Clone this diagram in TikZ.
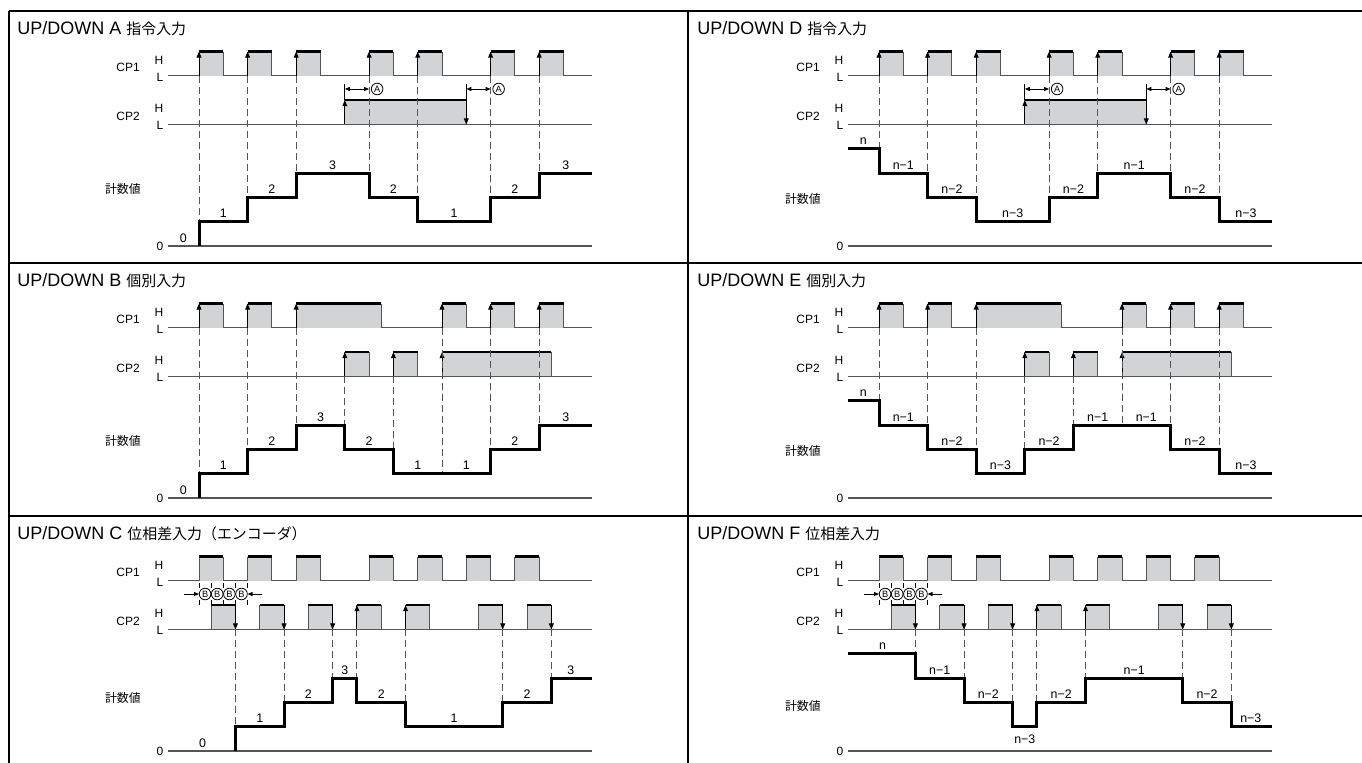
\documentclass[tikz,border=0pt]{standalone}
\usepackage{fontspec}
\setmainfont{Liberation Sans}
\newfontfamily\jp{Noto Sans CJK JP}[Scale=0.83]
\usetikzlibrary{arrows.meta}

\definecolor{pulsegray}{RGB}{209,211,212}
\definecolor{wiregray}{RGB}{85,85,85}

% one pulse: start, end, low level, high level
\newcommand{\pulse}[4]{%
  \fill[pulsegray] (#1,#3) rectangle (#2,#4);
  \draw[pulse side] (#1,#3) -- (#1,#4) (#2,#3) -- (#2,#4);
  \draw[pulse top] (#1,#4) -- (#2,#4);}

% names, level lines and zero line of one panel (#1 prefix, #2 height of count name)
\newcommand{\panelbase}[2]{%
  \node[sig label] (#1cp1) at (-2.92,7.35) {CP1};
  \node[lvl label] (#1h1) at (-1.45,7.65) {H};
  \node[lvl label] (#1l1) at (-1.45,6.95) {L};
  \node[sig label] (#1cp2) at (-2.92,5.35) {CP2};
  \node[lvl label] (#1h2) at (-1.45,5.65) {H};
  \node[lvl label] (#1l2) at (-1.45,4.95) {L};
  \node[sig label] (#1cnt) at (-3.13,#2) {{\jp\fontsize{7.2}{8}\selectfont 計数値}};
  \node[lvl label] (#1zero) at (-1.45,-0.03) {0};
  \draw[level line] (-1.28,7) -- (16.17,7);
  \draw[level line] (-1.28,5) -- (16.17,5);
  \draw[level line] (-1.28,0) -- (16.17,0);}

\begin{document}
\begin{tikzpicture}[x=0.5pt,y=-0.5pt,
    frame line/.style={line width=1pt},
    panel line/.style={line width=0.7pt},
    level line/.style={draw=wiregray,line width=0.6pt},
    pulse side/.style={draw=wiregray,line width=0.5pt},
    pulse top/.style={line width=1.3pt},
    edge arrow/.style={line width=0.5pt,-{Triangle[length=3pt,width=2.4pt]}},
    dash line/.style={draw=wiregray,line width=0.5pt,dash pattern=on 3.5pt off 2pt},
    count line/.style={line width=1.5pt,line join=miter},
    one tip/.style={line width=0.4pt,-{Triangle[length=2.5pt,width=2pt]}},
    both tips/.style={line width=0.4pt,{Triangle[length=2.5pt,width=2pt]}-{Triangle[length=2.5pt,width=2pt]}},
    tick line/.style={line width=0.4pt},
    title label/.style={anchor=west,inner sep=0pt,font=\fontsize{9}{10}\selectfont},
    sig label/.style={inner sep=0pt,font=\fontsize{6}{7}\selectfont},
    lvl label/.style={inner sep=0pt,anchor=east,font=\fontsize{6}{7}\selectfont},
    val label/.style={inner sep=0pt,font=\fontsize{6.2}{7}\selectfont},
    circ label/.style={circle,draw,line width=0.4pt,fill=white,inner sep=0pt,
      minimum size=5.8pt,font=\fontsize{4.6}{5}\selectfont}]

\useasboundingbox (0,0) rectangle (1362,763);

% frame
\draw[frame line] (9,11) -- (1362,11);
\draw[frame line] (9,11) -- (9,763);
\draw[panel line] (688,11) -- (688,763);
\draw[panel line] (9,263) -- (1362,263);
\draw[panel line] (9,516) -- (1362,516);

% ---------- A
\begin{scope}[shift={(199,246)},x=12.15pt,y=12.15pt]
  \node[title label] (aTitle) at (-7.49,8.93) {UP/DOWN A {\jp 指令入力}};
  \panelbase{a}{2.35}
  % CP1
  \foreach \s in {0,2,4,7,9,12,14} {
    \pulse{\s}{\s+1}{7}{8}
    \draw[edge arrow] (\s,7) -- (\s,8);
  }
  % CP2
  \pulse{6}{11}{5}{6}
  \draw[edge arrow] (6,5) -- (6,6);
  \draw[tick line] (6,6) -- (6,6.65);
  \draw[edge arrow] (11,6.65) -- (11,5);
  \draw[both tips] (6,6.46) -- (7,6.46);
  \draw[both tips] (11,6.46) -- (12,6.46);
  \node[circ label] (aCircA1) at (7.33,6.46) {A};
  \node[circ label] (aCircA2) at (12.33,6.46) {A};
  % count
  \foreach \x/\y in {0/1,2/2,4/3,7/3,9/2,12/2,14/3}
    \draw[dash line] (\x,7) -- (\x,\y);
  \draw[count line] (0,0) -- (0,1) -- (2,1) -- (2,2) -- (4,2) -- (4,3) -- (7,3) -- (7,2)
    -- (9,2) -- (9,1) -- (12,1) -- (12,2) -- (14,2) -- (14,3) -- (16.17,3);
  \foreach \x/\y/\t [count=\i] in {-0.65/0/0,1/1/1,3/2/2,5.5/3/3,8/2/2,10.5/1/1,13/2/2,15.1/3/3}
    \node[val label] (aVal\i) at (\x,\y+0.33) {\t};
\end{scope}

% ---------- D
\begin{scope}[shift={(879,246)},x=12.15pt,y=12.15pt]
  \node[title label] (dTitle) at (-7.49,8.93) {UP/DOWN D {\jp 指令入力}};
  \panelbase{d}{1.95}
  % CP1
  \foreach \s in {0,2,4,7,9,12,14} {
    \pulse{\s}{\s+1}{7}{8}
    \draw[edge arrow] (\s,7) -- (\s,8);
  }
  % CP2
  \pulse{6}{11}{5}{6}
  \draw[edge arrow] (6,5) -- (6,6);
  \draw[tick line] (6,6) -- (6,6.65);
  \draw[edge arrow] (11,6.65) -- (11,5);
  \draw[both tips] (6,6.46) -- (7,6.46);
  \draw[both tips] (11,6.46) -- (12,6.46);
  \node[circ label] (dCircA1) at (7.33,6.46) {A};
  \node[circ label] (dCircA2) at (12.33,6.46) {A};
  % count
  \foreach \x/\y in {0/4,2/3,4/2,7/2,9/3,12/3,14/2}
    \draw[dash line] (\x,7) -- (\x,\y);
  \draw[count line] (-1.28,4) -- (0,4) -- (0,3) -- (2,3) -- (2,2) -- (4,2) -- (4,1) -- (7,1)
    -- (7,2) -- (9,2) -- (9,3) -- (12,3) -- (12,2) -- (14,2) -- (14,1) -- (16.17,1);
  \foreach \x/\y/\t [count=\i] in {-0.65/4/n,1/3/n−1,3/2/n−2,5.5/1/n−3,8/2/n−2,10.5/3/n−1,13/2/n−2,15.1/1/n−3}
    \node[val label] (dVal\i) at (\x,\y+0.33) {\t};
\end{scope}

% ---------- B
\begin{scope}[shift={(199,498)},x=12.15pt,y=12.15pt]
  \node[title label] (bTitle) at (-7.49,8.93) {UP/DOWN B {\jp 個別入力}};
  \panelbase{b}{2.35}
  % CP1
  \foreach \s/\e in {0/1,2/3,4/7.5,10/11,12/13,14/15} {
    \pulse{\s}{\e}{7}{8}
    \draw[edge arrow] (\s,7) -- (\s,8);
  }
  % CP2
  \foreach \s/\e in {6/7,8/9,10/14.5} {
    \pulse{\s}{\e}{5}{6}
    \draw[edge arrow] (\s,5) -- (\s,6);
  }
  % count
  \foreach \x/\y in {0/1,2/2,4/3,10/1,12/2,14/3}
    \draw[dash line] (\x,7) -- (\x,\y);
  \foreach \x/\y in {6/3,8/2}
    \draw[dash line] (\x,5) -- (\x,\y);
  \draw[count line] (0,0) -- (0,1) -- (2,1) -- (2,2) -- (4,2) -- (4,3) -- (6,3) -- (6,2)
    -- (8,2) -- (8,1) -- (12,1) -- (12,2) -- (14,2) -- (14,3) -- (16.17,3);
  \foreach \x/\y/\t [count=\i] in {-0.65/0/0,1/1/1,3/2/2,5/3/3,7/2/2,9/1/1,11/1/1,13/2/2,15.1/3/3}
    \node[val label] (bVal\i) at (\x,\y+0.33) {\t};
\end{scope}

% ---------- E
\begin{scope}[shift={(879,498)},x=12.15pt,y=12.15pt]
  \node[title label] (eTitle) at (-7.49,8.93) {UP/DOWN E {\jp 個別入力}};
  \panelbase{e}{1.95}
  % CP1
  \foreach \s/\e in {0/1,2/3,4/7.5,10/11,12/13,14/15} {
    \pulse{\s}{\e}{7}{8}
    \draw[edge arrow] (\s,7) -- (\s,8);
  }
  % CP2
  \foreach \s/\e in {6/7,8/9,10/14.5} {
    \pulse{\s}{\e}{5}{6}
    \draw[edge arrow] (\s,5) -- (\s,6);
  }
  % count
  \foreach \x/\y in {0/4,2/3,4/2,10/3,12/3,14/2}
    \draw[dash line] (\x,7) -- (\x,\y);
  \foreach \x/\y in {6/2,8/3}
    \draw[dash line] (\x,5) -- (\x,\y);
  \draw[count line] (-1.28,4) -- (0,4) -- (0,3) -- (2,3) -- (2,2) -- (4,2) -- (4,1) -- (6,1)
    -- (6,2) -- (8,2) -- (8,3) -- (12,3) -- (12,2) -- (14,2) -- (14,1) -- (16.17,1);
  \foreach \x/\y/\t [count=\i] in {-0.65/4/n,1/3/n−1,3/2/n−2,5/1/n−3,7/2/n−2,9/3/n−1,11/3/n−1,13/2/n−2,15.1/1/n−3}
    \node[val label] (eVal\i) at (\x,\y+0.33) {\t};
\end{scope}

% ---------- C
\begin{scope}[shift={(199,751)},x=12.15pt,y=12.15pt]
  \node[title label] (cTitle) at (-7.49,8.93) {UP/DOWN C {\jp 位相差入力（エンコーダ）}};
  \panelbase{c}{2.2}
  % CP1
  \foreach \s in {0,2,4,7,9,11,13}
    \pulse{\s}{\s+1}{7}{8};
  % CP2
  \foreach \s in {0.5,2.5,4.5,6.5,8.5,11.5,13.5}
    \pulse{\s}{\s+1}{5}{6};
  \foreach \x in {1.5,3.5,5.5,12.5,14.5}
    \draw[edge arrow] (\x,6) -- (\x,5);
  \foreach \x in {6.5,8.5}
    \draw[edge arrow] (\x,5) -- (\x,6);
  % phase marks
  \foreach \x in {0,0.5,...,2}
    \draw[tick line] (\x,6.9) -- (\x,6.72) (\x,6.2) -- (\x,6.0);
  \draw[one tip] (-0.62,6.46) -- (0,6.46);
  \draw[one tip] (2.6,6.46) -- (2,6.46);
  \foreach \x [count=\i] in {0.25,0.75,1.25,1.75}
    \node[circ label] (cCircB\i) at (\x,6.46) {B};
  % count
  \foreach \x/\y in {1.5/1,3.5/2,5.5/3,6.5/3,8.5/2,12.5/2,14.5/3}
    \draw[dash line] (\x,5) -- (\x,\y);
  \draw[count line] (1.5,0) -- (1.5,1) -- (3.5,1) -- (3.5,2) -- (5.5,2) -- (5.5,3) -- (6.5,3)
    -- (6.5,2) -- (8.5,2) -- (8.5,1) -- (12.5,1) -- (12.5,2) -- (14.5,2) -- (14.5,3) -- (16.17,3);
  \foreach \x/\y/\t [count=\i] in {0.15/0/0,2.5/1/1,4.5/2/2,6/3/3,7.5/2/2,10.5/1/1,13.5/2/2,15.3/3/3}
    \node[val label] (cVal\i) at (\x,\y+0.33) {\t};
\end{scope}

% ---------- F
\begin{scope}[shift={(879,751)},x=12.15pt,y=12.15pt]
  \node[title label] (fTitle) at (-7.49,8.93) {UP/DOWN F {\jp 位相差入力}};
  \panelbase{f}{1.85}
  % CP1
  \foreach \s in {0,2,4,7,9,11,13}
    \pulse{\s}{\s+1}{7}{8};
  % CP2
  \foreach \s in {0.5,2.5,4.5,6.5,8.5,11.5,13.5}
    \pulse{\s}{\s+1}{5}{6};
  \foreach \x in {1.5,3.5,5.5,12.5,14.5}
    \draw[edge arrow] (\x,6) -- (\x,5);
  \foreach \x in {6.5,8.5}
    \draw[edge arrow] (\x,5) -- (\x,6);
  % phase marks
  \foreach \x in {0,0.5,...,2}
    \draw[tick line] (\x,6.9) -- (\x,6.72) (\x,6.2) -- (\x,6.0);
  \draw[one tip] (-0.62,6.46) -- (0,6.46);
  \draw[one tip] (2.6,6.46) -- (2,6.46);
  \foreach \x [count=\i] in {0.25,0.75,1.25,1.75}
    \node[circ label] (fCircB\i) at (\x,6.46) {B};
  % count
  \foreach \x/\y in {1.5/4,3.5/3,5.5/2,6.5/2,8.5/3,12.5/3,14.5/2}
    \draw[dash line] (\x,5) -- (\x,\y);
  \draw[count line] (-1.28,4) -- (1.5,4) -- (1.5,3) -- (3.5,3) -- (3.5,2) -- (5.5,2) -- (5.5,1)
    -- (6.5,1) -- (6.5,2) -- (8.5,2) -- (8.5,3) -- (12.5,3) -- (12.5,2) -- (14.5,2) -- (14.5,1) -- (16.17,1);
  \foreach \x/\y/\t [count=\i] in {0.15/4.33/n,2.5/3.33/n−1,4.5/2.33/n−2,6/0.5/n−3,7.5/2.33/n−2,10.5/3.33/n−1,13.5/2.33/n−2,15.3/1.33/n−3}
    \node[val label] (fVal\i) at (\x,\y) {\t};
\end{scope}

\end{tikzpicture}
\end{document}
